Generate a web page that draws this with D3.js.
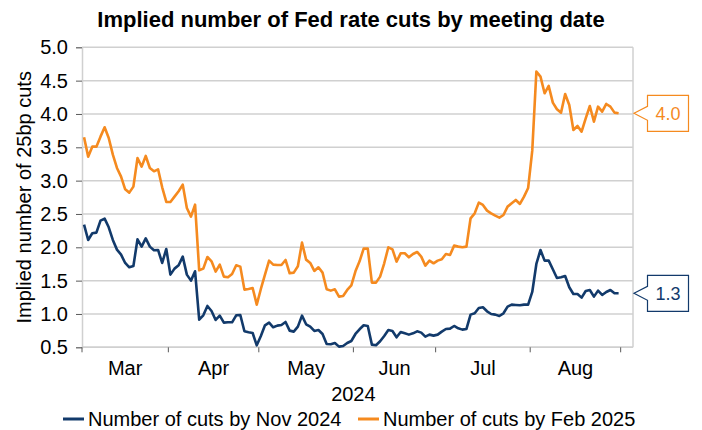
<!DOCTYPE html>
<html>
<head>
<meta charset="utf-8">
<script src="https://cdn.jsdelivr.net/npm/d3@7"></script>
<style>
  body { margin: 0; background: #fff; }
  svg { display: block; font-family: "Liberation Sans", Arial, sans-serif; }
  .tick text { fill: #000; }
</style>
</head>
<body>
<div id="chart"></div>
<script>
// month labels and business days in each month (text axis, one category per trading day)
var months = ["Mar", "Apr", "May", "Jun", "Jul", "Aug"];
var monthDays = [21, 22, 23, 20, 23, 22];
var yearLabel = "2024";

var yTicks = [0.5, 1.0, 1.5, 2.0, 2.5, 3.0, 3.5, 4.0, 4.5, 5.0];

// Number of cuts by Nov 2024 (daily)
var cutsNov = [
  2.34, 2.11, 2.21, 2.22, 2.40, 2.43, 2.30, 2.11, 1.965, 1.89,
  1.765, 1.70, 1.72, 2.12, 2.01, 2.135, 2.01, 1.955, 1.96, 1.765,
  1.975, 1.59, 1.68, 1.73, 1.86, 1.59, 1.50, 1.64, 0.915, 0.98,
  1.12, 1.045, 0.91, 0.975, 0.87, 0.875, 0.875, 0.98, 0.985, 0.74,
  0.725, 0.715, 0.53, 0.67, 0.83, 0.87, 0.80, 0.825, 0.835, 0.88,
  0.75, 0.735, 0.81, 0.975, 0.845, 0.81, 0.745, 0.76, 0.70, 0.55,
  0.545, 0.565, 0.51, 0.52, 0.565, 0.595, 0.70, 0.77, 0.83, 0.82,
  0.54, 0.53, 0.59, 0.67, 0.76, 0.745, 0.65, 0.73, 0.71, 0.69,
  0.71, 0.74, 0.72, 0.66, 0.69, 0.675, 0.69, 0.735, 0.775, 0.78,
  0.82, 0.785, 0.765, 0.775, 0.99, 1.01, 1.09, 1.10, 1.04, 1.0,
  0.99, 0.97, 1.01, 1.11, 1.14, 1.135, 1.13, 1.14, 1.14, 1.33,
  1.75, 1.96, 1.80, 1.80, 1.67, 1.54, 1.55, 1.57, 1.40, 1.30,
  1.30, 1.245, 1.345, 1.36, 1.26, 1.35, 1.285, 1.33, 1.36, 1.31,
  1.31
];

// Number of cuts by Feb 2025 (daily)
var cutsFeb = [
  3.65, 3.36, 3.51, 3.51, 3.66, 3.80, 3.64, 3.39, 3.19, 3.06,
  2.87, 2.82, 2.91, 3.34, 3.21, 3.37, 3.19, 3.14, 3.17, 2.90,
  2.68, 2.68, 2.76, 2.84, 2.94, 2.59, 2.46, 2.64, 1.655, 1.68,
  1.855, 1.79, 1.635, 1.74, 1.56, 1.55, 1.60, 1.73, 1.71, 1.365,
  1.375, 1.39, 1.14, 1.375, 1.59, 1.80, 1.74, 1.735, 1.735, 1.81,
  1.61, 1.62, 1.715, 2.07, 1.815, 1.765, 1.645, 1.70, 1.62, 1.37,
  1.35, 1.37, 1.26, 1.27, 1.36, 1.43, 1.64, 1.79, 1.98, 1.98,
  1.47, 1.47, 1.56, 1.76, 2.0, 1.97, 1.785, 1.91, 1.91, 1.85,
  1.90, 1.93, 1.86, 1.725, 1.80, 1.76, 1.80, 1.82, 1.90, 1.885,
  2.025, 2.01, 2.0, 2.01, 2.435, 2.51, 2.67, 2.635, 2.55, 2.51,
  2.475, 2.445, 2.485, 2.61, 2.66, 2.71, 2.65, 2.76, 2.89, 3.45,
  4.635, 4.56, 4.31, 4.42, 4.17, 4.07, 4.02, 4.30, 4.135, 3.76,
  3.82, 3.735, 3.935, 4.12, 3.885, 4.11, 4.035, 4.15, 4.11, 4.02,
  4.01
];

var seriesNames = ["Number of cuts by Nov 2024", "Number of cuts by Feb 2025"];
var seriesColors = ["#123a6b", "#f58a1f"];
var extraCategories = 3; // empty categories after the last day

var width = 702, height = 430;
var margin = {top: 47.3, right: 69, bottom: 82.7, left: 82};

var svg = d3.select("#chart").append("svg")
    .attr("width", width)
    .attr("height", height);

var nCat = d3.sum(monthDays) + extraCategories;

var x = d3.scaleLinear()
    .domain([0, nCat])
    .range([margin.left, width - margin.right]);

var y = d3.scaleLinear()
    .domain([0.5, 5.0])
    .range([height - margin.bottom, margin.top]);

// title
svg.append("text")
    .attr("x", 351)
    .attr("y", 27)
    .attr("text-anchor", "middle")
    .style("font-size", "22px")
    .style("font-weight", "bold")
    .text("Implied number of Fed rate cuts by meeting date");

// gridlines
svg.append("g")
    .selectAll("line")
    .data(yTicks)
    .enter()
    .append("line")
    .attr("x1", x(0))
    .attr("x2", x(nCat))
    .attr("y1", d => y(d))
    .attr("y2", d => y(d))
    .attr("stroke", "#d0d0d0")
    .attr("stroke-width", 1.5);

// right border of plot area
svg.append("line")
    .attr("x1", x(nCat)).attr("x2", x(nCat))
    .attr("y1", y(5.0)).attr("y2", y(0.5))
    .attr("stroke", "#d0d0d0")
    .attr("stroke-width", 1.5);

// y axis
var yAxis = svg.append("g")
    .attr("transform", "translate(" + margin.left + ",0)")
    .call(d3.axisLeft(y).tickValues(yTicks).tickFormat(d3.format(".1f")).tickSize(6).tickPadding(8));
yAxis.select(".domain").attr("stroke", "#d0d0d0").attr("stroke-width", 1.5);
yAxis.selectAll(".tick line").attr("stroke", "#595959");
yAxis.selectAll(".tick text").style("font-size", "20px");

svg.append("text")
    .attr("transform", "translate(24," + ((y(5.0) + y(0.5)) / 2) + ") rotate(-90)")
    .attr("text-anchor", "middle")
    .attr("dy", "0.35em")
    .style("font-size", "20px")
    .text("Implied number of 25bp cuts");

// x axis: ticks at month boundaries, labels centred in each month
var bounds = [0];
monthDays.forEach(d => bounds.push(bounds[bounds.length - 1] + d));

var xAxis = svg.append("g")
    .attr("transform", "translate(0," + y(0.5) + ")");
xAxis.append("line")
    .attr("x1", x(0)).attr("x2", x(nCat))
    .attr("stroke", "#d0d0d0")
    .attr("stroke-width", 1.5);
xAxis.selectAll(".xtick")
    .data(bounds)
    .enter()
    .append("line")
    .attr("class", "xtick")
    .attr("x1", d => x(d)).attr("x2", d => x(d))
    .attr("y1", 0).attr("y2", 5)
    .attr("stroke", "#595959");
xAxis.selectAll(".xlab")
    .data(months)
    .enter()
    .append("text")
    .attr("class", "xlab")
    .attr("x", (d, i) => x((bounds[i] + bounds[i + 1]) / 2))
    .attr("y", 28)
    .attr("text-anchor", "middle")
    .style("font-size", "20px")
    .text(d => d);
xAxis.append("text")
    .attr("x", x(bounds[3]))
    .attr("y", 53.5)
    .attr("text-anchor", "middle")
    .style("font-size", "20px")
    .text(yearLabel);

// lines
var line = d3.line()
    .x((d, i) => x(i + 0.5))
    .y(d => y(d));

var allSeries = [cutsNov, cutsFeb];

svg.selectAll(".series")
    .data(allSeries)
    .enter()
    .append("path")
    .attr("class", "series")
    .attr("d", d => line(d))
    .attr("fill", "none")
    .attr("stroke", (d, i) => seriesColors[i])
    .attr("stroke-width", 2.6)
    .attr("stroke-linejoin", "round");

// callouts with last value
var fmt = d3.format(".1f");
allSeries.forEach(function(s, i) {
    var last = s[s.length - 1];
    var cy = y(last);
    var tipX = x(nCat) + 1;
    var bx = tipX + 13.5, bw = 41, bh = 36;
    var g = svg.append("g");
    var pts = [
        [tipX, cy],
        [bx, cy - 7],
        [bx, cy - bh / 2],
        [bx + bw, cy - bh / 2],
        [bx + bw, cy + bh / 2],
        [bx, cy + bh / 2],
        [bx, cy + 7]
    ];
    g.append("path")
        .attr("d", "M" + pts.map(p => p.join(",")).join("L") + "Z")
        .attr("fill", "#fff")
        .attr("stroke", seriesColors[i])
        .attr("stroke-width", 1.2);
    g.append("text")
        .attr("x", bx + bw / 2)
        .attr("y", cy)
        .attr("dy", "0.36em")
        .attr("text-anchor", "middle")
        .attr("fill", seriesColors[i])
        .style("font-size", "18px")
        .text(fmt(last));
});

// legend
var legendX = [63, 358];
var legend = svg.selectAll(".legend")
    .data(seriesNames)
    .enter()
    .append("g")
    .attr("class", "legend")
    .attr("transform", (d, i) => "translate(" + legendX[i] + ",419)");
legend.append("line")
    .attr("x1", 0).attr("x2", 21)
    .attr("stroke", (d, i) => seriesColors[i])
    .attr("stroke-width", 3);
legend.append("text")
    .attr("x", 25)
    .attr("dy", "0.36em")
    .style("font-size", "20px")
    .text(d => d);
</script>
</body>
</html>
